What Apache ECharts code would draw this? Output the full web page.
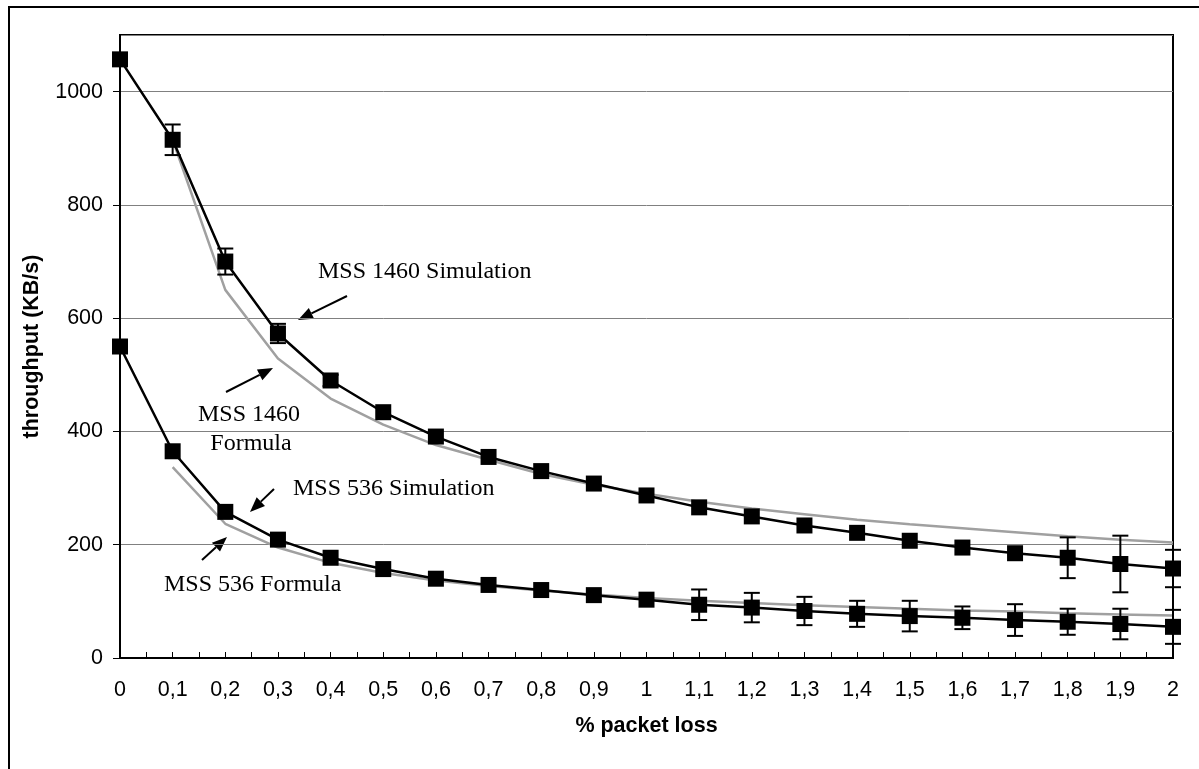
<!DOCTYPE html>
<html><head><meta charset="utf-8">
<script src="https://cdn.jsdelivr.net/npm/echarts@6/dist/echarts.min.js"></script>
<style>html,body{margin:0;padding:0;background:#fff}#c{width:1199px;height:769px}</style>
</head><body><div id="c"></div>
<script>
const lossPct = [0,0.1,0.2,0.3,0.4,0.5,0.6,0.7,0.8,0.9,1.0,1.1,1.2,1.3,1.4,1.5,1.6,1.7,1.8,1.9,2.0];
const sim1460 = [1057,915,700,573,490,434,391,355,330,308,287,266,250,234,221,207,195,185,177,166,158];
const err1460 = [0,27,23,17,10,0,0,0,0,0,0,0,0,0,0,0,0,0,36,50,33];
const form1460 = [null,915,650,529,458,412,376,350,325,306,290,276,264,254,244,236,229,222,215,209,204];
const sim536 = [550,365,258,209,177,157,140,129,120,111,103,94,89,83,78,74,71,67,64,60,55];
const err536 = [0,0,0,0,0,0,0,0,0,0,0,27,26,25,23,27,20,28,23,27,30];
const form536 = [null,337,237,195,168,150,137,127,119,112,106,101,97,93,90,87,84,82,79,77,75];
const yTicks = [0,200,400,600,800,1000];

const chart = echarts.init(document.getElementById('c'));
const pair = arr => lossPct.map((x,i)=>[x, arr[i]]);
const errData = (vals, errs) => lossPct.map((x,i)=>[x, vals[i], errs[i]]).filter(d=>d[2]>0);

function errRender(params, api){
  const x = api.value(0), y = api.value(1), e = api.value(2);
  const top = api.coord([x, y+e]), bot = api.coord([x, y-e]);
  const w = 8;
  const st = {stroke:'#000', lineWidth:2};
  return {type:'group', children:[
    {type:'line', shape:{x1:top[0],y1:top[1],x2:bot[0],y2:bot[1]}, style:st},
    {type:'line', shape:{x1:top[0]-w,y1:top[1],x2:top[0]+w,y2:top[1]}, style:st},
    {type:'line', shape:{x1:bot[0]-w,y1:bot[1],x2:bot[0]+w,y2:bot[1]}, style:st}
  ]};
}

function arrow(x1,y1,x2,y2){
  const ang = Math.atan2(y2-y1, x2-x1), L = 15, W = 6;
  const bx = x2 - L*Math.cos(ang), by = y2 - L*Math.sin(ang);
  const px = -Math.sin(ang)*W, py = Math.cos(ang)*W;
  return {type:'group', children:[
    {type:'line', shape:{x1:x1,y1:y1,x2:bx,y2:by}, style:{stroke:'#000', lineWidth:2}},
    {type:'polygon', shape:{points:[[x2,y2],[bx+px,by+py],[bx-px,by-py]]}, style:{fill:'#000'}}
  ]};
}
const annFont = {fontFamily:'"Liberation Serif", "Times New Roman", serif', fontSize:24, fill:'#000'};
function txt(x,y,s,align){ return {type:'text', x:x, y:y, style:Object.assign({text:s, textAlign:align||'left', textVerticalAlign:'middle'}, annFont)}; }

const axisFont = {fontFamily:'"Liberation Sans", Arial, sans-serif', fontSize:21.5, color:'#000'};

chart.setOption({
  animation:false,
  backgroundColor:'#fff',
  grid:{left:120, right:26, top:35, bottom:111, show:true, borderColor:'#000', borderWidth:2, backgroundColor:'transparent'},
  xAxis:{
    type:'value', min:0, max:2, interval:0.1,
    name:'% packet loss', nameLocation:'middle', nameGap:57,
    nameTextStyle:Object.assign({}, axisFont, {fontWeight:'bold'}),
    axisLine:{lineStyle:{color:'#000', width:2}},
    axisTick:{inside:true, length:6, lineStyle:{color:'#000', width:1}},
    minorTick:{show:true, splitNumber:2, length:6, lineStyle:{color:'#000', width:1}},
    splitLine:{show:false},
    axisLabel:Object.assign({}, axisFont, {margin:21, formatter:v=>String(+v.toFixed(1)).replace('.', ',')})
  },
  yAxis:{
    type:'value', min:0, max:1100, interval:200,
    name:'throughput (KB/s)', nameLocation:'middle', nameGap:77,
    nameTextStyle:Object.assign({}, axisFont, {fontWeight:'bold'}),
    axisLine:{show:true, lineStyle:{color:'#000', width:2}},
    axisTick:{show:true, length:7, lineStyle:{color:'#000', width:1}},
    splitLine:{show:true, lineStyle:{color:'#808080', width:1}},
    axisLabel:Object.assign({}, axisFont, {margin:17, showMaxLabel:false, formatter:v=> yTicks.indexOf(v)>=0 ? String(v) : ''})
  },
  series:[
    {name:'MSS 1460 Formula', type:'line', data:pair(form1460), showSymbol:false, lineStyle:{color:'#a0a0a0', width:2.5}, z:2},
    {name:'MSS 536 Formula', type:'line', data:pair(form536), showSymbol:false, lineStyle:{color:'#a0a0a0', width:2.5}, z:2},
    {name:'MSS 1460 Simulation', type:'line', data:pair(sim1460), symbol:'rect', symbolSize:16, itemStyle:{color:'#000'}, lineStyle:{color:'#000', width:2.5}, z:3},
    {name:'MSS 536 Simulation', type:'line', data:pair(sim536), symbol:'rect', symbolSize:16, itemStyle:{color:'#000'}, lineStyle:{color:'#000', width:2.5}, z:3},
    {type:'custom', data:errData(sim1460, err1460), renderItem:errRender, clip:false, z:4},
    {type:'custom', data:errData(sim536, err536), renderItem:errRender, clip:false, z:4}
  ],
  graphic:[
    {type:'rect', shape:{x:9, y:7, width:1250, height:820}, style:{fill:'none', stroke:'#000', lineWidth:2}, silent:true, z:0},
    txt(318, 272, 'MSS 1460 Simulation'),
    arrow(347, 296, 298, 320),
    txt(249, 415, 'MSS 1460', 'center'),
    txt(251, 444, 'Formula', 'center'),
    arrow(226, 392, 273, 368),
    txt(293, 489, 'MSS 536 Simulation'),
    arrow(274, 489, 250, 512),
    txt(164, 585, 'MSS 536 Formula'),
    arrow(202, 560, 227, 537)
  ]
});
</script></body></html>
